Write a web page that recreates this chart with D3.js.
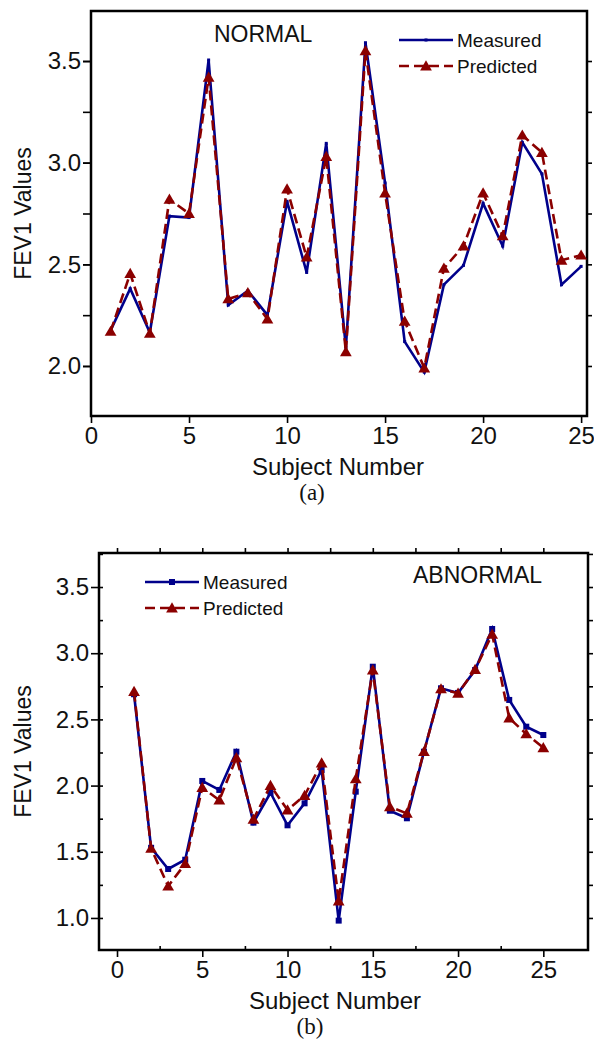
<!DOCTYPE html>
<html>
<head>
<meta charset="utf-8">
<script src="https://cdn.jsdelivr.net/npm/d3@7"></script>
<style>
  body { margin: 0; background: #fff; }
  svg { display: block; }
  text { font-family: "Liberation Sans", Arial, sans-serif; fill: #111; }
  .frame { fill: none; stroke: #000; stroke-width: 2.5; }
  .axis path { display: none; }
  .axis line { stroke: #000; stroke-width: 1.6; }
  .axis text { font-size: 24px; }
</style>
</head>
<body>
<div id="chart"></div>
<script>
'use strict';

// subject numbers 1..25
var subjects = [1, 2, 3, 4, 5, 6, 7, 8, 9, 10, 11, 12, 13, 14, 15, 16, 17, 18, 19, 20, 21, 22, 23, 24, 25];

// (a) NORMAL
var normalMeasured = [2.175, 2.38, 2.165, 2.737, 2.73, 3.505, 2.30, 2.37, 2.25, 2.81, 2.46, 3.095, 2.09,
  3.59, 2.90, 2.12, 1.97, 2.40, 2.495, 2.80, 2.59, 3.10, 2.945, 2.40, 2.49];
var normalPredicted = [2.17, 2.455, 2.16, 2.82, 2.75, 3.42, 2.33, 2.36, 2.23, 2.87, 2.535, 3.03, 2.07,
  3.55, 2.85, 2.22, 1.99, 2.48, 2.59, 2.85, 2.64, 3.135, 3.05, 2.52, 2.545];

// (b) ABNORMAL
var abnormalMeasured = [2.69, 1.53, 1.37, 1.44, 2.035, 1.967, 2.256, 1.72, 1.946, 1.70, 1.866, 2.118, 0.98,
  1.954, 2.898, 1.81, 1.753, 2.256, 2.735, 2.70, 2.873, 3.183, 2.647, 2.445, 2.382];
var abnormalPredicted = [2.71, 1.525, 1.24, 1.41, 1.985, 1.89, 2.21, 1.745, 2.0, 1.815, 1.925, 2.17, 1.128,
  2.05, 2.873, 1.84, 1.79, 2.256, 2.73, 2.697, 2.876, 3.143, 2.51, 2.39, 2.286];

var xTicks = [0, 5, 10, 15, 20, 25];
var yTicksNormal = [2.0, 2.5, 3.0, 3.5];
var yTicksAbnormal = [1.0, 1.5, 2.0, 2.5, 3.0, 3.5];
var seriesNames = ['Measured', 'Predicted'];

var W = 594, H = 1046;
var BLUE = '#00008b', RED = '#8b0000';

var svg = d3.select('#chart').append('svg')
  .attr('width', W)
  .attr('height', H);

function drawPanel(opt) {
  var x = d3.scaleLinear().domain(opt.xDomain).range([opt.left, opt.right]);
  var y = d3.scaleLinear().domain(opt.yDomain).range([opt.bottom, opt.top]);
  var g = svg.append('g');

  var yMinor = d3.range(opt.yDomain[0], opt.yDomain[1], 0.25)
    .map(function(v) { return Math.ceil(v * 4) / 4; })
    .filter(function(v, i, a) { return a.indexOf(v) === i && v <= opt.yDomain[1]; });

  // left axis
  g.append('g').attr('class', 'axis')
    .attr('transform', 'translate(' + opt.left + ',0)')
    .call(d3.axisLeft(y).tickValues(opt.yTicks).tickSize(8).tickPadding(2)
      .tickFormat(d3.format('.1f')));
  g.append('g').attr('class', 'axis')
    .attr('transform', 'translate(' + opt.left + ',0)')
    .call(d3.axisLeft(y).tickValues(yMinor).tickSize(opt.minorOut ? 8 : -4).tickFormat(''));

  // right axis (ticks only)
  g.append('g').attr('class', 'axis')
    .attr('transform', 'translate(' + opt.right + ',0)')
    .call(d3.axisRight(y).tickValues(yMinor).tickSize(5).tickFormat(''));

  // bottom axis
  g.append('g').attr('class', 'axis')
    .attr('transform', 'translate(0,' + opt.bottom + ')')
    .call(d3.axisBottom(x).tickValues(xTicks).tickSize(7).tickPadding(4));
  if (opt.xMinor) {
    g.append('g').attr('class', 'axis')
      .attr('transform', 'translate(0,' + opt.bottom + ')')
      .call(d3.axisBottom(x).tickValues([2.5, 7.5, 12.5, 17.5, 22.5]).tickSize(-4).tickFormat(''));
    g.append('g').attr('class', 'axis')
      .attr('transform', 'translate(0,' + opt.top + ')')
      .call(d3.axisTop(x).tickValues(d3.range(0, 26, 2.5)).tickSize(5).tickFormat(''));
  }

  g.append('rect').attr('class', 'frame')
    .attr('x', opt.left).attr('y', opt.top)
    .attr('width', opt.right - opt.left).attr('height', opt.bottom - opt.top);

  var line = d3.line()
    .x(function(d) { return x(d[0]); })
    .y(function(d) { return y(d[1]); });

  var meas = subjects.map(function(s, i) { return [s, opt.measured[i]]; });
  var pred = subjects.map(function(s, i) { return [s, opt.predicted[i]]; });

  g.append('path').datum(meas)
    .attr('d', line)
    .attr('fill', 'none').attr('stroke', BLUE).attr('stroke-width', 2.6);
  var ms = opt.squareSize;
  g.selectAll('.sq').data(meas).enter().append('rect')
    .attr('class', 'sq')
    .attr('x', function(d) { return x(d[0]) - ms / 2; })
    .attr('y', function(d) { return y(d[1]) - ms / 2; })
    .attr('width', ms).attr('height', ms)
    .attr('fill', BLUE);

  g.append('path').datum(pred)
    .attr('d', line)
    .attr('fill', 'none').attr('stroke', RED).attr('stroke-width', 2.6)
    .attr('stroke-dasharray', '10,5');
  var tri = d3.symbol().type(d3.symbolTriangle).size(60);
  g.selectAll('.tri').data(pred).enter().append('path')
    .attr('class', 'tri')
    .attr('d', tri)
    .attr('transform', function(d) { return 'translate(' + x(d[0]) + ',' + (y(d[1]) + 1) + ')'; })
    .attr('fill', RED);

  // legend
  var lg = g.append('g').attr('transform', 'translate(' + opt.legend[0] + ',' + opt.legend[1] + ')');
  lg.append('line').attr('x1', 0).attr('x2', 54).attr('y1', 0).attr('y2', 0)
    .attr('stroke', BLUE).attr('stroke-width', 2.6);
  lg.append('rect').attr('x', 27 - ms / 2).attr('y', -ms / 2).attr('width', ms).attr('height', ms)
    .attr('fill', BLUE);
  lg.append('text').attr('x', 58).attr('y', 7).style('font-size', '19px').text(seriesNames[0]);
  lg.append('line').attr('x1', 0).attr('x2', 54).attr('y1', 26).attr('y2', 26)
    .attr('stroke', RED).attr('stroke-width', 2.6).attr('stroke-dasharray', '10,5');
  lg.append('path').attr('d', tri).attr('transform', 'translate(27,27)').attr('fill', RED);
  lg.append('text').attr('x', 58).attr('y', 33).style('font-size', '19px').text(seriesNames[1]);

  // panel title
  g.append('text').attr('x', opt.title[0]).attr('y', opt.title[1])
    .style('font-size', '23px').text(opt.titleText);

  // axis titles
  g.append('text').attr('x', opt.xLabelX).attr('y', opt.bottom + 59)
    .attr('text-anchor', 'middle').style('font-size', '24px').text('Subject Number');
  g.append('text').attr('x', opt.captionX).attr('y', opt.bottom + 84)
    .attr('text-anchor', 'middle')
    .style('font-family', '"Liberation Serif", "Times New Roman", serif')
    .style('font-size', '23px').text(opt.caption);
  g.append('text')
    .attr('transform', 'translate(31,' + ((opt.top + opt.bottom) / 2) + ') rotate(-90)')
    .attr('text-anchor', 'middle').style('font-size', '23px').text('FEV1 Values');
}

drawPanel({
  left: 91, right: 587, top: 11, bottom: 416,
  xDomain: [0, 25.3], yDomain: [1.754, 3.746],
  yTicks: yTicksNormal, minorOut: true, xMinor: false,
  measured: normalMeasured, predicted: normalPredicted,
  squareSize: 3,
  legend: [399, 40], title: [214, 42], titleText: 'NORMAL',
  xLabelX: 338, captionX: 312, caption: '(a)'
});

drawPanel({
  left: 99, right: 588, top: 553, bottom: 950,
  xDomain: [-1.056, 27.62], yDomain: [0.758, 3.757],
  yTicks: yTicksAbnormal, minorOut: false, xMinor: true,
  measured: abnormalMeasured, predicted: abnormalPredicted,
  squareSize: 6,
  legend: [145, 582], title: [413, 583], titleText: 'ABNORMAL',
  xLabelX: 335, captionX: 310, caption: '(b)'
});
</script>
</body>
</html>
